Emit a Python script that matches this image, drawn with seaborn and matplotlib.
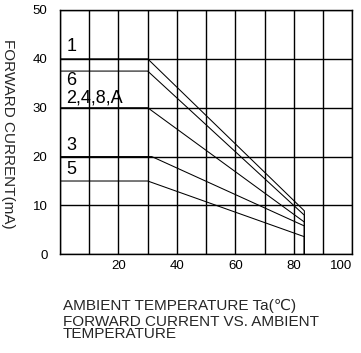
import pandas as pd
import matplotlib
matplotlib.use("Agg")
import matplotlib.pyplot as plt
import seaborn as sns

sns.set_style("white")
plt.rcParams["font.family"] = ["Liberation Sans", "DejaVu Sans"]

# derating curves: flat up to the knee, linear drop, vertical cut-off at ~84 C
curve_names = ["1", "6", "2,4,8,A", "3", "5"]
curve_temp = [
    [0, 30, 83.6, 83.6],
    [0, 30, 83.6, 83.6],
    [0, 30, 83.6, 83.6],
    [0, 31.4, 83.6, 83.6],
    [0, 30, 83.6, 83.6],
]
curve_current = [
    [40, 40, 8.9, 0],
    [37.5, 37.5, 8.0, 0],
    [30, 30, 6.6, 0],
    [20, 20, 5.8, 0],
    [15, 15, 3.6, 0],
]
label_pos_y = [42.6, 35.6, 31.9, 22.3, 17.3]

x_ticks = list(range(0, 101, 10))
x_ticklabels = ["" if (v == 0 or v % 20) else str(v) for v in x_ticks]
y_ticks = list(range(0, 51, 10))

rows = []
for name, xs, ys in zip(curve_names, curve_temp, curve_current):
    for i, (x, y) in enumerate(zip(xs, ys)):
        rows.append({"curve": name, "order": i, "temp": x, "current": y})
df = pd.DataFrame(rows)

fig = plt.figure(figsize=(3.61, 3.53), dpi=100)
ax = fig.add_axes([60 / 361, 1 - 254.3 / 353, 292.3 / 361, 244.3 / 353])

sns.lineplot(data=df, x="temp", y="current", units="curve", estimator=None,
             sort=False, color="black", linewidth=0.75, ax=ax, zorder=3)

for name, yv in zip(curve_names, label_pos_y):
    ax.text(2.2, yv, name, fontsize=13, va="center", ha="left", color="black")

ax.set_xlim(0, 100)
ax.set_ylim(0, 50)
ax.set_xticks(x_ticks)
ax.set_xticklabels(x_ticklabels)
ax.get_xticklabels()[-1].set_ha("right")
ax.set_yticks(y_ticks)
ax.tick_params(length=0, labelsize=9.5, colors="black")
ax.tick_params(axis="y", pad=9)
ax.tick_params(axis="x", pad=4)
ax.grid(True, color="black", linewidth=1.0)
for s in ax.spines.values():
    s.set_color("black")
    s.set_linewidth(1.0)
ax.set_xlabel("")
ax.set_ylabel("")

fig.text(8 / 361, 1 - 134 / 353, "FORWARD CURRENT(mA)", rotation=270,
         fontsize=11, ha="center", va="center")
fig.text(63 / 361, 1 - 305.5 / 353, "AMBIENT TEMPERATURE Ta(\u2103)",
         fontsize=11, ha="left", va="center")
fig.text(63 / 361, 1 - 315 / 353, "FORWARD CURRENT VS. AMBIENT\nTEMPERATURE",
         fontsize=11, ha="left", va="top", linespacing=0.85)

fig.savefig("out.png", dpi=100)
